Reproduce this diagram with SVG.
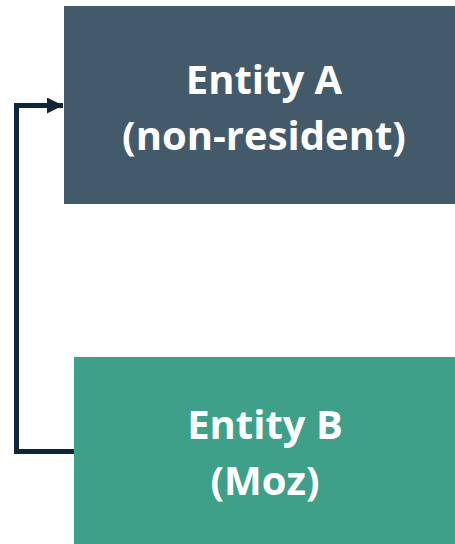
<svg xmlns="http://www.w3.org/2000/svg" width="455" height="544" viewBox="0 0 455 544">
  <style>
    .lbl { font-family: "Open Sans", "Liberation Sans", sans-serif; font-weight: bold; font-size: 40px; fill: #ffffff; text-anchor: middle; }
    .conn { fill: none; stroke: #0f2538; stroke-width: 5; }
  </style>
  <defs>
    <marker id="arrow" viewBox="0 0 10 10" refX="10" refY="5" markerWidth="3.4" markerHeight="3.2" markerUnits="strokeWidth" orient="auto">
      <path d="M0,0 L10,5 L0,10 z" fill="#0f2538"/>
    </marker>
  </defs>
  <rect width="455" height="544" fill="#ffffff"/>
  <g id="entityA">
    <rect x="64" y="6" width="391" height="198" fill="#435a6b"/>
    <text class="lbl" x="264" y="94">Entity A</text>
    <text class="lbl" x="264" y="150">(non-resident)</text>
  </g>
  <g id="entityB">
    <rect x="74" y="357" width="381" height="187" fill="#3fa08a"/>
    <text class="lbl" x="265" y="439">Entity B</text>
    <text class="lbl" x="265" y="495">(Moz)</text>
  </g>
  <g id="connectors">
    <path class="conn" d="M74,451.5 H16.5 V105.5 H63" marker-end="url(#arrow)"/>
  </g>
</svg>
